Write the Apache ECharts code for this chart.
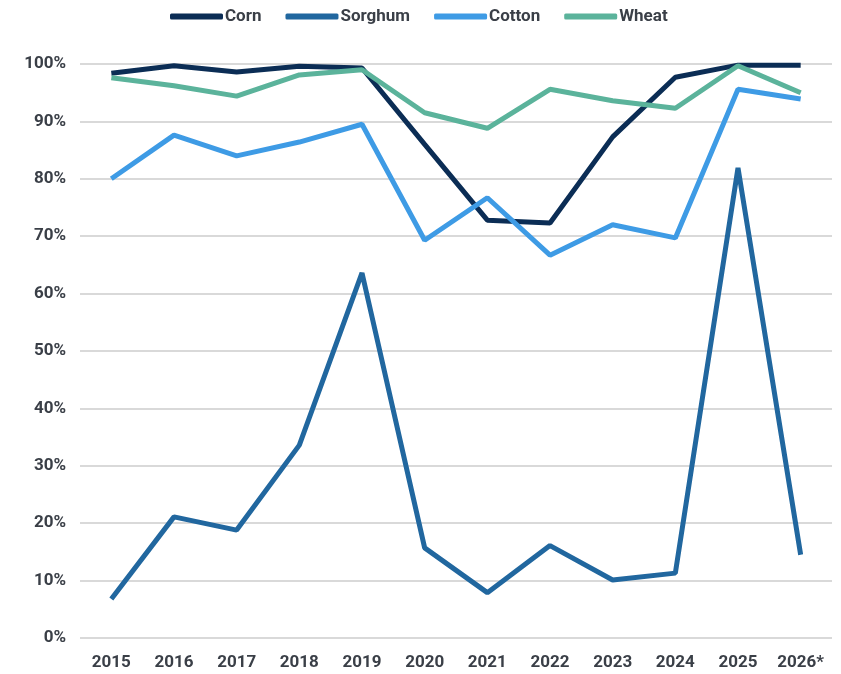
<!DOCTYPE html>
<html lang="en">
<head>
    <meta charset="UTF-8">
    <title>Crop share</title>
    <style>
        html, body { margin: 0; padding: 0; background: #fff; }
        #main { width: 841px; height: 674px; }
    </style>
</head>
<body>
<div id="main"></div>
<script src="https://cdn.jsdelivr.net/npm/echarts@6/dist/echarts.min.js"></script>
<script>
    var years = ['2015', '2016', '2017', '2018', '2019', '2020', '2021', '2022', '2023', '2024', '2025', '2026*'];
    var corn    = [98.4, 99.7, 98.6, 99.6, 99.3, 86.0, 72.8, 72.3, 87.3, 97.7, 99.8, 99.8];
    var sorghum = [6.8, 21.1, 18.8, 33.6, 63.6, 15.7, 7.9, 16.1, 10.1, 11.3, 81.9, 14.5];
    var cotton  = [80.0, 87.6, 84.0, 86.4, 89.5, 69.3, 76.7, 66.7, 72.0, 69.7, 95.6, 93.9];
    var wheat   = [97.6, 96.2, 94.4, 98.1, 99.0, 91.5, 88.8, 95.6, 93.6, 92.3, 99.7, 95.0];

    var colors = ['#0b2d55', '#21679f', '#3e9be5', '#5bb39b'];
    var textColor = '#3a3f47';

    function line(name, data) {
        return {
            name: name,
            type: 'line',
            data: data,
            symbol: 'none',
            lineStyle: { width: 5 }
        };
    }

    var chart = echarts.init(document.getElementById('main'));
    chart.setOption({
        color: colors,
        animation: false,
        textStyle: { fontFamily: 'Roboto', fontWeight: 'bold', color: textColor },
        legend: {
            top: 3,
            left: 165,
            itemWidth: 53,
            itemHeight: 6,
            itemGap: 24,
            icon: 'roundRect',
            textStyle: { fontSize: 17, fontWeight: 'bold', color: textColor, padding: [0, 0, 0, -3] },
            data: ['Corn', 'Sorghum', 'Cotton', 'Wheat']
        },
        grid: { left: 80, right: 9, top: 64, bottom: 36, containLabel: false },
        xAxis: {
            type: 'category',
            data: years,
            axisLine: { show: false },
            axisTick: { show: false },
            axisLabel: { fontSize: 17, fontWeight: 'bold', color: textColor, margin: 16 }
        },
        yAxis: {
            type: 'value',
            min: 0,
            max: 100,
            interval: 10,
            axisLabel: {
                formatter: '{value}%',
                fontSize: 17, fontWeight: 'bold', color: textColor, margin: 14
            },
            splitLine: { lineStyle: { color: '#d9d9d9', width: 2 } }
        },
        series: [
            line('Corn', corn),
            line('Sorghum', sorghum),
            line('Cotton', cotton),
            line('Wheat', wheat)
        ]
    });
</script>
</body>
</html>
